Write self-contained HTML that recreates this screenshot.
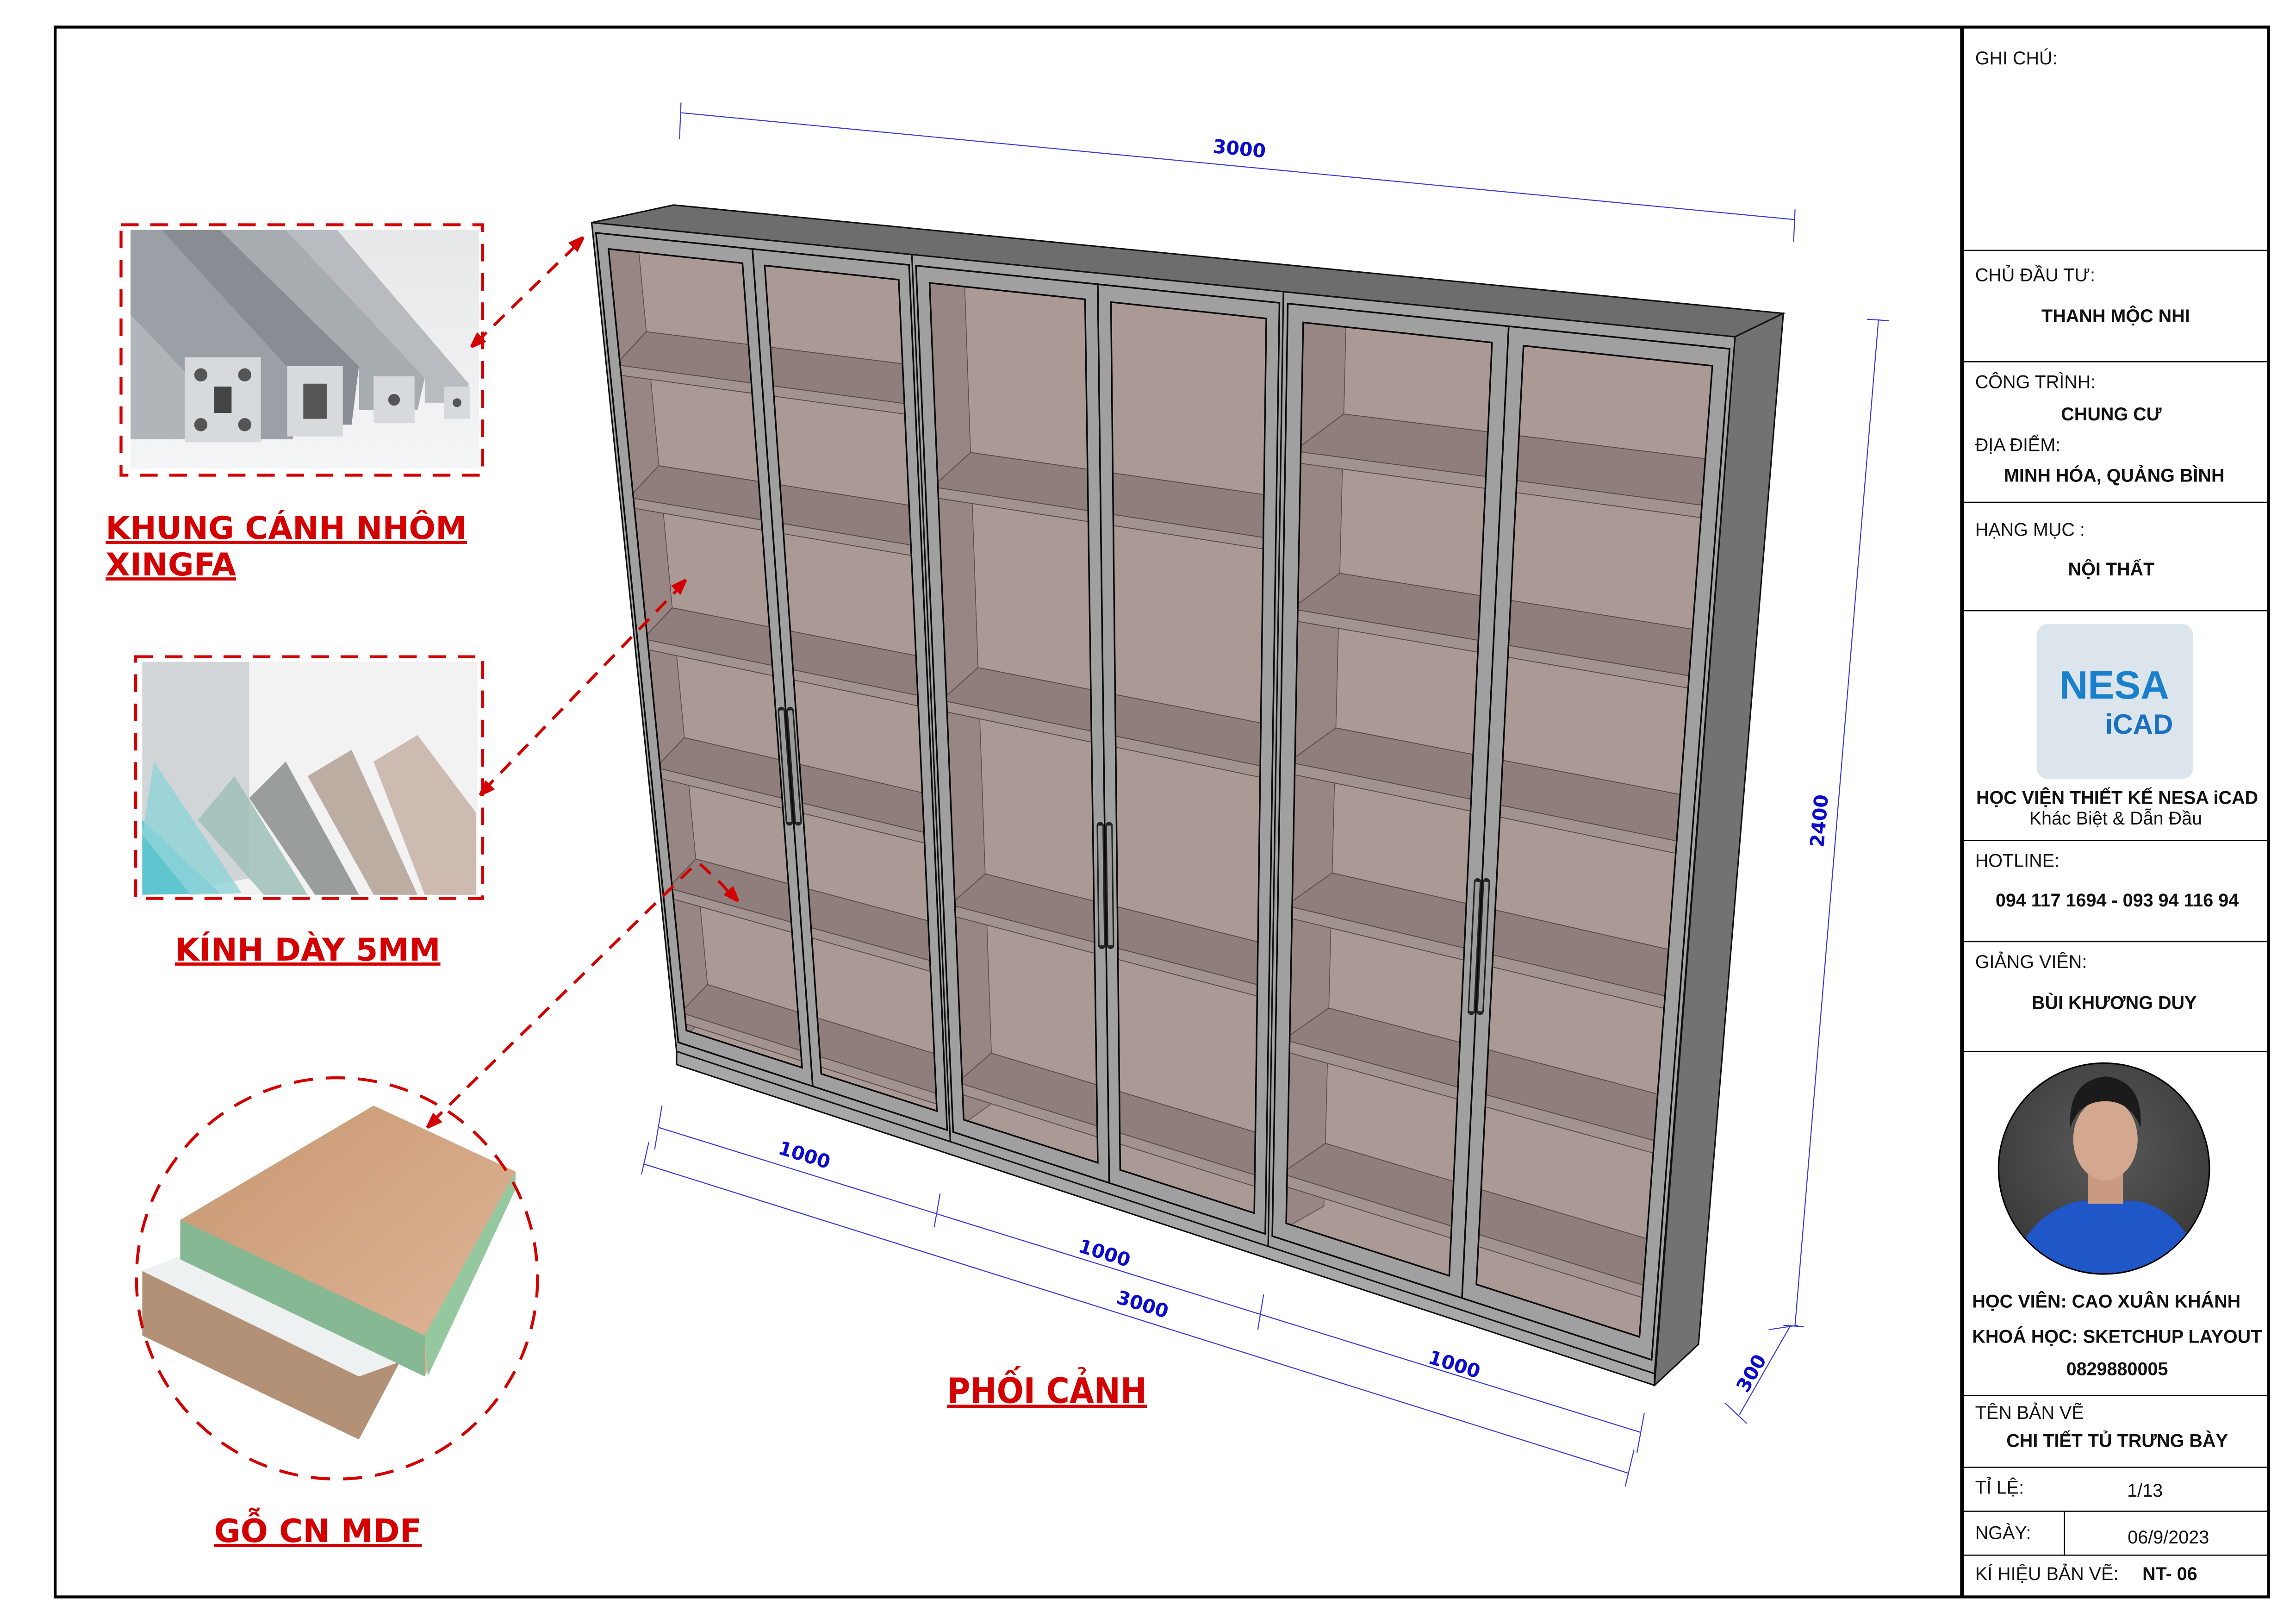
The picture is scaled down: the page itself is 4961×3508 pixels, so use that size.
<!DOCTYPE html>
<html><head><meta charset="utf-8"><style>
html,body{margin:0;padding:0;background:#fff;}
svg{display:block;}
.tb{font-family:"Liberation Sans",Arial,sans-serif;font-size:12.5px;fill:#111;}
.tbb{font-family:"Liberation Sans",Arial,sans-serif;font-size:12.5px;font-weight:bold;fill:#111;}
.lbl{font-family:"DejaVu Sans",sans-serif;font-weight:bold;font-size:21.5px;fill:#d40000;text-decoration:underline;}
.dim{font-family:"DejaVu Sans",sans-serif;font-weight:bold;font-size:13px;fill:#0a0ad0;}
</style></head><body>
<svg id="s" width="4961" height="3508" viewBox="0 0 1568 1109" xmlns="http://www.w3.org/2000/svg">
<defs>
<linearGradient id="bg1" x1="0" y1="0" x2="0" y2="1"><stop offset="0" stop-color="#e6e8ea"/><stop offset="1" stop-color="#f4f5f6"/></linearGradient>
<linearGradient id="wood" x1="0" y1="0" x2="1" y2="1"><stop offset="0" stop-color="#c79670"/><stop offset="1" stop-color="#e0b89a"/></linearGradient>
<radialGradient id="ph" cx="0.5" cy="0.4" r="0.6"><stop offset="0" stop-color="#5a5a5a"/><stop offset="1" stop-color="#3a3a3a"/></radialGradient>
<clipPath id="pc"><circle cx="1437" cy="798" r="72"/></clipPath>
<marker id="ah" markerWidth="10" markerHeight="10" refX="9" refY="5" orient="auto" markerUnits="userSpaceOnUse"><path d="M0,0 L14,5 L0,10 z" fill="#d40000" transform="scale(0.9)"/></marker>
</defs>
<rect x="37.5" y="18.5" width="1512" height="1072" fill="none" stroke="#000" stroke-width="2"/>
<line x1="1340" y1="18" x2="1340" y2="1090" stroke="#000" stroke-width="2.5"/>
<g stroke="#000" stroke-width="0.8">
<line x1="1340" y1="171" x2="1549" y2="171"/>
<line x1="1340" y1="247" x2="1549" y2="247"/>
<line x1="1340" y1="343" x2="1549" y2="343"/>
<line x1="1340" y1="417" x2="1549" y2="417"/>
<line x1="1340" y1="574" x2="1549" y2="574"/>
<line x1="1340" y1="643" x2="1549" y2="643"/>
<line x1="1340" y1="718" x2="1549" y2="718"/>
<line x1="1340" y1="953" x2="1549" y2="953"/>
<line x1="1340" y1="1002" x2="1549" y2="1002"/>
<line x1="1340" y1="1032" x2="1549" y2="1032"/>
<line x1="1340" y1="1062" x2="1549" y2="1062"/>
<line x1="1410" y1="1032" x2="1410" y2="1062"/>
</g>
<text class="tb" x="1349" y="44">GHI CHÚ:</text>
<text class="tb" x="1349" y="192">CHỦ ĐẦU TƯ:</text>
<text class="tbb" x="1445" y="220" text-anchor="middle">THANH MỘC NHI</text>
<text class="tb" x="1349" y="265">CÔNG TRÌNH:</text>
<text class="tbb" x="1442" y="287" text-anchor="middle">CHUNG CƯ</text>
<text class="tb" x="1349" y="308">ĐỊA ĐIỂM:</text>
<text class="tbb" x="1444" y="329" text-anchor="middle">MINH HÓA, QUẢNG BÌNH</text>
<text class="tb" x="1349" y="366">HẠNG MỤC :</text>
<text class="tbb" x="1442" y="393" text-anchor="middle">NỘI THẤT</text>
<rect x="1391" y="426" width="107" height="106" rx="8" fill="#dce4ec"/>
<text x="1444" y="477" text-anchor="middle" font-family="Liberation Sans,sans-serif" font-weight="bold" font-size="27" fill="#1a80cc">NESA</text>
<text x="1461" y="501" text-anchor="middle" font-family="Liberation Sans,sans-serif" font-weight="bold" font-size="19" fill="#1a70c0">iCAD</text>
<text class="tbb" x="1446" y="549" text-anchor="middle">HỌC VIỆN THIẾT KẾ NESA iCAD</text>
<text class="tb" x="1445" y="563" text-anchor="middle">Khác Biệt &amp; Dẫn Đầu</text>
<text class="tb" x="1349" y="592">HOTLINE:</text>
<text class="tbb" x="1446" y="619" text-anchor="middle">094 117 1694 - 093 94 116 94</text>
<text class="tb" x="1349" y="661">GIẢNG VIÊN:</text>
<text class="tbb" x="1444" y="689" text-anchor="middle">BÙI KHƯƠNG DUY</text>
<circle cx="1437" cy="798" r="72" fill="url(#ph)"/>
<g clip-path="url(#pc)">
<path d="M1370,880 Q1380,830 1420,820 L1460,820 Q1500,830 1505,880 Z" fill="#1f56c8"/>
<rect x="1426" y="800" width="24" height="22" fill="#c99a80"/>
<ellipse cx="1438" cy="778" rx="22" ry="28" fill="#d4a88e"/>
<path d="M1414,770 Q1412,738 1438,735 Q1464,738 1462,770 Q1455,752 1438,752 Q1420,752 1414,770Z" fill="#1b1b1b"/>
</g>
<circle cx="1437" cy="798" r="72" fill="none" stroke="#000" stroke-width="1"/>
<text class="tbb" x="1347" y="893">HỌC VIÊN: CAO XUÂN KHÁNH</text>
<text class="tbb" x="1347" y="917">KHOÁ HỌC: SKETCHUP LAYOUT</text>
<text class="tbb" x="1446" y="939" text-anchor="middle">0829880005</text>
<text class="tb" x="1349" y="969">TÊN BẢN VẼ</text>
<text class="tbb" x="1446" y="988" text-anchor="middle">CHI TIẾT TỦ TRƯNG BÀY</text>
<text class="tb" x="1349" y="1020">TỈ LỆ:</text>
<text class="tb" x="1465" y="1022" text-anchor="middle">1/13</text>
<text class="tb" x="1349" y="1051">NGÀY:</text>
<text class="tb" x="1481" y="1054" text-anchor="middle">06/9/2023</text>
<text class="tb" x="1349" y="1079">KÍ HIỆU BẢN VẼ:</text>
<text class="tbb" x="1482" y="1079" text-anchor="middle">NT- 06</text>

<rect x="89" y="157" width="238" height="163" fill="url(#bg1)"/>
<g>
<polygon points="89,157 110,157 200,255 200,300 170,300 89,215" fill="#9aa0a5"/>
<polygon points="110,157 150,157 245,250 240,290 200,290 200,255" fill="#878d93"/>
<polygon points="150,157 195,157 290,258 285,280 245,280 245,250" fill="#a7acb1"/>
<polygon points="195,157 230,157 320,262 318,275 290,275 290,258" fill="#b8bcc0"/>
<polygon points="89,215 170,300 89,300" fill="#b0b5ba"/>
<rect x="126" y="244" width="52" height="58" fill="#d7dadd"/>
<rect x="196" y="250" width="38" height="48" fill="#d7dadd"/>
<rect x="255" y="257" width="28" height="32" fill="#d7dadd"/>
<rect x="303" y="264" width="18" height="22" fill="#d7dadd"/>
<circle cx="137" cy="256" r="4.5" fill="#555"/><circle cx="167" cy="256" r="4.5" fill="#555"/><circle cx="137" cy="290" r="4.5" fill="#555"/><circle cx="167" cy="290" r="4.5" fill="#555"/>
<rect x="146" y="264" width="12" height="18" fill="#444"/>
<rect x="207" y="262" width="16" height="24" fill="#555"/>
<circle cx="269" cy="273" r="4" fill="#555"/>
<circle cx="312" cy="275" r="3" fill="#555"/>
</g>
<rect x="82.5" y="153.5" width="247" height="171" fill="none" stroke="#d40000" stroke-width="2" stroke-dasharray="12,8"/>
<text class="lbl" x="72" y="368">KHUNG CÁNH NHÔM </text>
<text class="lbl" x="72" y="393">XINGFA</text>

<rect x="97" y="452" width="229" height="159" fill="#f2f2f2"/>
<polygon points="97,452 170,452 170,600 97,611" fill="#c9cdd0" opacity="0.8"/>
<polygon points="97,560 150,610 97,611" fill="#5fc6cf"/>
<polygon points="105,520 165,610 130,611 97,570" fill="#8fd3d8" opacity="0.8"/>
<polygon points="160,530 210,611 180,611 135,560" fill="#9fbfb9" opacity="0.85"/>
<polygon points="195,520 245,611 215,611 170,545" fill="#8a8f8d" opacity="0.85"/>
<polygon points="240,512 285,611 255,611 210,530" fill="#b6a59a" opacity="0.9"/>
<polygon points="285,502 325,555 325,611 290,611 255,520" fill="#c9b4a9" opacity="0.9"/>
<rect x="92.5" y="448.5" width="237" height="165" fill="none" stroke="#d40000" stroke-width="2" stroke-dasharray="12,8"/>
<text class="lbl" x="210" y="656" text-anchor="middle">KÍNH DÀY 5MM</text>

<polygon points="97,868 195,830 273,930 245,983 97,912" fill="#b39176"/>
<polygon points="97,868 195,830 273,930 245,940" fill="#edf1f1"/>
<polygon points="123,833 255,755 352,800 290,940 123,860" fill="url(#wood)"/>
<polygon points="123,833 290,912 290,940 123,860" fill="#86b893"/>
<polygon points="290,912 352,800 352,812 292,940" fill="#96c8a0"/>
<circle cx="230" cy="873" r="137" fill="none" stroke="#d40000" stroke-width="2" stroke-dasharray="13,9"/>
<text class="lbl" x="217" y="1053" text-anchor="middle" style="font-size:22px">GỖ CN MDF</text>

<g id="cab"></g>

<g stroke="#3a3ad8" stroke-width="0.7" fill="none">
<line x1="465" y1="77" x2="1226" y2="150"/>
<line x1="465" y1="70" x2="464" y2="95"/><line x1="1226" y1="143" x2="1225" y2="165"/>
<line x1="450" y1="770" x2="1120" y2="978"/>
<line x1="440" y1="795" x2="1112" y2="1006"/>
<line x1="452" y1="755" x2="447" y2="785"/><line x1="443" y1="780" x2="438" y2="802"/>
<line x1="642" y1="815" x2="638" y2="838"/><line x1="863" y1="884" x2="859" y2="908"/>
<line x1="1123" y1="965" x2="1118" y2="992"/><line x1="1116" y1="990" x2="1110" y2="1015"/>
<line x1="1283" y1="218" x2="1226" y2="905"/>
<line x1="1275" y1="218" x2="1290" y2="219"/><line x1="1218" y1="905" x2="1232" y2="906"/>
<line x1="1223" y1="905" x2="1188" y2="966"/>
<line x1="1208" y1="908" x2="1228" y2="905"/><line x1="1178" y1="958" x2="1193" y2="972"/>
</g>
<text class="dim" transform="translate(846,106) rotate(5.5)" text-anchor="middle">3000</text>
<text class="dim" transform="translate(548,793) rotate(17)" text-anchor="middle">1000</text>
<text class="dim" transform="translate(753,860) rotate(17)" text-anchor="middle">1000</text>
<text class="dim" transform="translate(779,895) rotate(17)" text-anchor="middle">3000</text>
<text class="dim" transform="translate(992,936) rotate(17)" text-anchor="middle">1000</text>
<text class="dim" transform="translate(1247,561) rotate(-85)" text-anchor="middle">2400</text>
<text class="dim" transform="translate(1200,940) rotate(-60)" text-anchor="middle">300</text>
<text x="715" y="958" text-anchor="middle" font-family="DejaVu Sans Condensed,DejaVu Sans,sans-serif" font-weight="bold" font-size="24" fill="#d40000" text-decoration="underline">PHỐI CẢNH</text>

<g stroke="#d40000" stroke-width="2" stroke-dasharray="10,7" fill="none">
<line x1="325" y1="234" x2="398" y2="163" marker-end="url(#ah)"/>
<line x1="398" y1="163" x2="322" y2="236" marker-end="url(#ah)" stroke-dasharray="0,200"/>
<line x1="330" y1="540" x2="468" y2="397" marker-end="url(#ah)"/>
<line x1="468" y1="397" x2="328" y2="542" marker-end="url(#ah)" stroke-dasharray="0,300"/>
<line x1="472" y1="593" x2="292" y2="769" marker-end="url(#ah)"/>
<polyline points="478,590 492,603 503,615" marker-end="url(#ah)"/>
</g>
</svg>
<script>
(function(){
var NS="http://www.w3.org/2000/svg",g=document.getElementById("cab");
function el(t,a){var e=document.createElementNS(NS,t);for(var k in a)e.setAttribute(k,a[k]);g.appendChild(e);return e;}
var TL=[404,152],TR=[1185,230],BL=[462,718],BR=[1130,938];
function F(u,v){return[(1-u)*(1-v)*TL[0]+u*(1-v)*TR[0]+(1-u)*v*BL[0]+u*v*BR[0],(1-u)*(1-v)*TL[1]+u*(1-v)*TR[1]+(1-u)*v*BL[1]+u*v*BR[1]];}
function pts(a){return a.map(function(p){return p[0].toFixed(1)+","+p[1].toFixed(1)}).join(" ");}
function quad(u0,u1,v0,v1){return[F(u0,v0),F(u1,v0),F(u1,v1),F(u0,v1)];}
function poly(a,f,s,w){return el("polygon",{points:pts(a),fill:f,stroke:s||"none","stroke-width":w||0});}
poly([TL,[460,140],[1218,214],TR],"#6d6d6d","#111",1);
poly([TR,[1218,214],[1160,918],[1130,946]],"#727272","#111",1);
poly([BL,BR,[1130,946],[462,727]],"#a8a8a8","#111",1);
var mods=[[0,0.28],[0.28,0.605],[0.605,1]];
var shelves=[[0.17,0.33,0.50,0.655,0.80,0.95],[0.26,0.5,0.73,0.93],[0.165,0.33,0.49,0.64,0.78,0.92]];
var handles=[[0.5,0.55,0.68],[0.5,0.6,0.73],[0.5,0.57,0.7]];
mods.forEach(function(m,i){
 var a=m[0],b=m[1];function U(x){return a+(b-a)*x;}
 poly(quad(U(0),U(1),0,1),"#a2a2a2","#111",1);
 poly(quad(U(0.03),U(0.97),0.02,0.98),"#ab9995","#333",0.6);
 poly([F(U(0.03),0.02),F(U(0.14),0.02),F(U(0.14),0.94),F(U(0.03),0.98)],"#978683","#5a4a48",0.5);
 shelves[i].forEach(function(v){
  poly([F(U(0.03),v),F(U(0.14),v-0.045),F(U(0.97),v-0.045),F(U(0.97),v)],"#8f7e7b","#5a4a48",0.6);
  poly([F(U(0.03),v),F(U(0.97),v),F(U(0.97),v+0.012),F(U(0.03),v+0.012)],"#a39390","#5a4a48",0.6);
 });
 [[0.01,0.5],[0.5,0.99]].forEach(function(d){
  var o=quad(U(d[0]),U(d[1]),0.012,0.988),n=quad(U(d[0]+0.035),U(d[1]-0.035),0.03,0.97);
  el("path",{d:"M"+pts(o)+"Z M"+pts(n)+"Z","fill-rule":"evenodd",fill:"#a0a0a0",stroke:"#0a0a0a","stroke-width":1.1});
 });
 var h=handles[i],p1=F(U(h[0]),h[1]),p2=F(U(h[0]),h[2]);
 [-3,3].forEach(function(dx){
 el("line",{x1:p1[0]+dx,y1:p1[1],x2:p2[0]+dx,y2:p2[1],stroke:"#222","stroke-width":5,"stroke-linecap":"round"});
 el("line",{x1:p1[0]+dx,y1:p1[1],x2:p2[0]+dx,y2:p2[1],stroke:"#9a9a9a","stroke-width":3});
 });
});
})();
</script>
</body></html>
